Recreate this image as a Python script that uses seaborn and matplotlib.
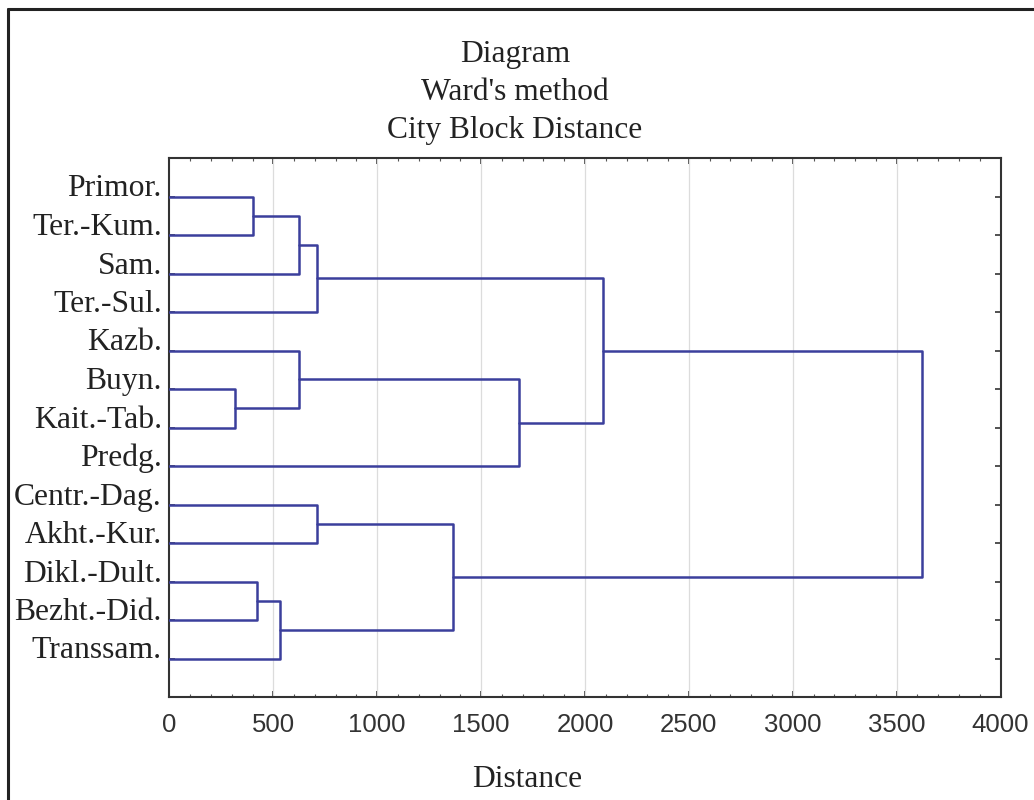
import numpy as np
import pandas as pd
import matplotlib
matplotlib.use("Agg")
import matplotlib.pyplot as plt
import seaborn as sns
from matplotlib.lines import Line2D
from matplotlib.ticker import MultipleLocator

# ---- data ----
leaves = ["Primor.", "Ter.-Kum.", "Sam.", "Ter.-Sul.", "Kazb.", "Buyn.",
          "Kait.-Tab.", "Predg.", "Centr.-Dag.", "Akht.-Kur.", "Dikl.-Dult.",
          "Bezht.-Did.", "Transsam."]
# cluster ids: leaves 0..12, merges 13..24 in this order
merge_left = [5, 0, 10, 15, 14, 4, 8, 17, 18, 20, 19, 22]
merge_right = [6, 1, 11, 12, 2, 13, 9, 3, 7, 21, 16, 23]
merge_height = [316, 401, 423, 534, 622, 623, 709, 709, 1684, 2087, 1366, 3620]
x_ticks = [0, 500, 1000, 1500, 2000, 2500, 3000, 3500, 4000]
title_lines = ["Diagram", "Ward's method", "City Block Distance"]
x_label = "Distance"

# ---- build dendrogram segments ----
ypos = {i: float(i) for i in range(len(leaves))}
hpos = {i: 0.0 for i in range(len(leaves))}
rows = []
for k, (a, b, h) in enumerate(zip(merge_left, merge_right, merge_height)):
    cid = len(leaves) + k
    pts = [(hpos[a], ypos[a]), (h, ypos[a]), (h, ypos[b]), (hpos[b], ypos[b])]
    for j, (px, py) in enumerate(pts):
        rows.append({"seg": k, "order": j, "x": px, "y": py})
    ypos[cid] = (ypos[a] + ypos[b]) / 2
    hpos[cid] = h
df = pd.DataFrame(rows)

# ---- style ----
sns.set_style("white")
plt.rcParams["font.family"] = ["Liberation Serif", "DejaVu Serif"]

W, H = 1034, 800
fig = plt.figure(figsize=(W / 100, H / 100), dpi=100)
x0, x1 = 169.4, 1000.6
ytop, ybot = 158, 697
ax = fig.add_axes([x0 / W, 1 - ybot / H, (x1 - x0) / W, (ybot - ytop) / H])

line_col = "#3b3f9c"
sns.lineplot(data=df, x="x", y="y", units="seg", estimator=None, sort=False,
             color=line_col, linewidth=1.8, ax=ax, legend=False, zorder=3)

ax.set_xlim(0, 4000)
ax.set_ylim(len(leaves), -1)
ax.set_xticks(x_ticks)
ax.xaxis.set_minor_locator(MultipleLocator(100))
ax.set_xticklabels([str(t) for t in x_ticks], family="Liberation Sans",
                   fontsize=18.5, color="#333333")
ax.set_yticks(range(len(leaves)))
ax.set_yticklabels(leaves, family="Liberation Serif", fontsize=22.8, color="#222222")
for lbl in ax.get_yticklabels():
    lbl.set_verticalalignment("baseline")
ax.set_xlabel("")
ax.set_ylabel("")

ax.grid(False)
for t in x_ticks[1:-1]:
    ax.axvline(t, color="#dcdcdc", linewidth=0.9, zorder=1)

for s in ax.spines.values():
    s.set_visible(True)
    s.set_color("#333333")
    s.set_linewidth(1.5)

ax.tick_params(axis="x", which="major", direction="in", length=4, width=1.2,
               color="#333333", top=True, bottom=True, pad=11.5)
ax.tick_params(axis="x", which="minor", direction="in", length=2, width=0.8,
               color="#555555", top=True, bottom=True)
ax.tick_params(axis="y", which="major", direction="in", length=4, width=1.2,
               color="#333333", left=True, right=True, pad=5.5)

# titles
for txt, yb in zip(title_lines, [62, 100, 138]):
    fig.text(515 / W, 1 - yb / H, txt, ha="center", va="baseline",
             fontsize=22.7, color="#222222", family="Liberation Serif")
fig.text(527 / W, 1 - 787 / H, x_label, ha="center", va="baseline",
         fontsize=22.7, color="#222222", family="Liberation Serif")

# outer frame (top and left visible)
fig.add_artist(Line2D([8 / W, 8 / W], [0, 1 - 9 / H], color="#222222",
                      linewidth=2.2, transform=fig.transFigure))
fig.add_artist(Line2D([8 / W, 1], [1 - 9 / H, 1 - 9 / H], color="#222222",
                      linewidth=2.2, transform=fig.transFigure))

fig.savefig("out.png", dpi=100)
